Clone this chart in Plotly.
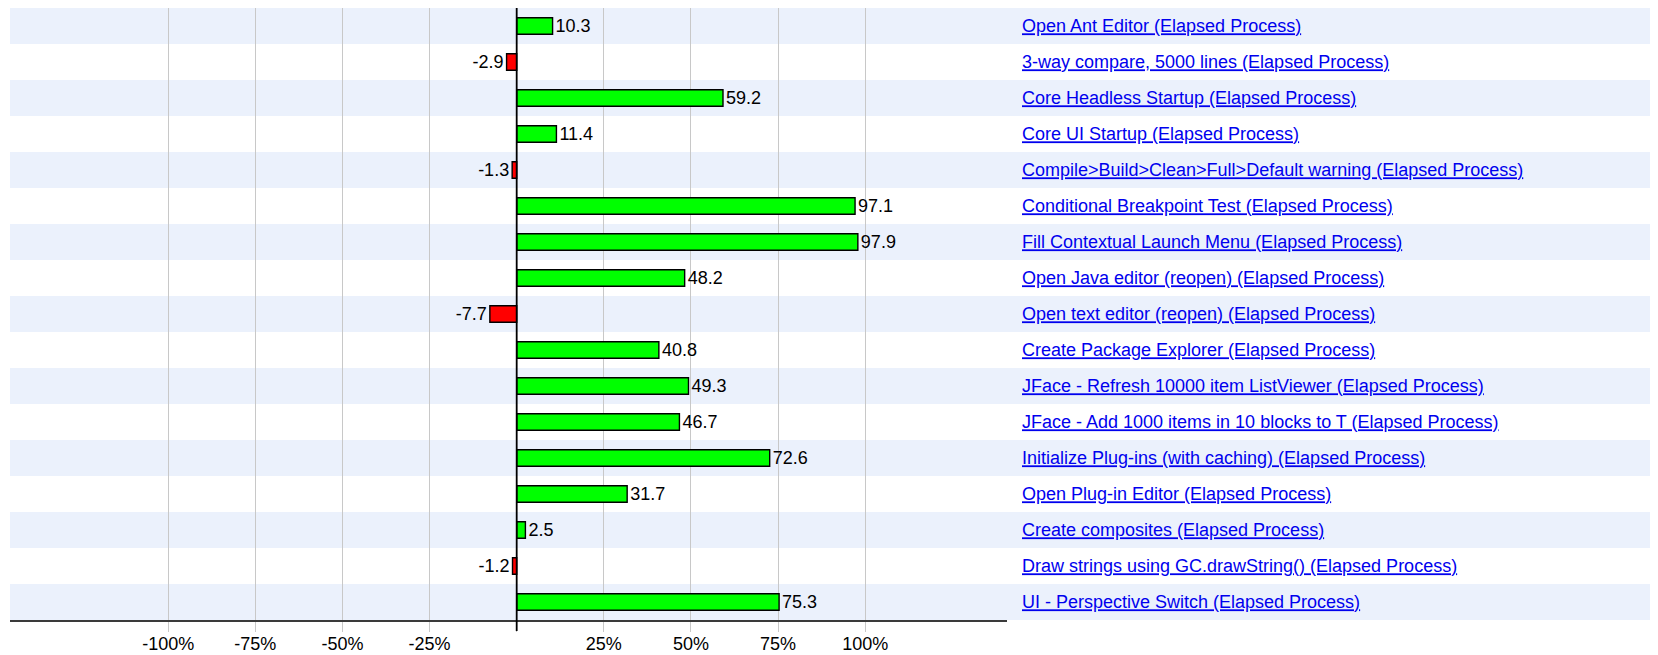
import plotly.graph_objects as go

categories = [
    "Open Ant Editor (Elapsed Process)",
    "3-way compare, 5000 lines (Elapsed Process)",
    "Core Headless Startup (Elapsed Process)",
    "Core UI Startup (Elapsed Process)",
    "Compile>Build>Clean>Full>Default warning (Elapsed Process)",
    "Conditional Breakpoint Test (Elapsed Process)",
    "Fill Contextual Launch Menu (Elapsed Process)",
    "Open Java editor (reopen) (Elapsed Process)",
    "Open text editor (reopen) (Elapsed Process)",
    "Create Package Explorer (Elapsed Process)",
    "JFace - Refresh 10000 item ListViewer (Elapsed Process)",
    "JFace - Add 1000 items in 10 blocks to T (Elapsed Process)",
    "Initialize Plug-ins (with caching) (Elapsed Process)",
    "Open Plug-in Editor (Elapsed Process)",
    "Create composites (Elapsed Process)",
    "Draw strings using GC.drawString() (Elapsed Process)",
    "UI - Perspective Switch (Elapsed Process)",
]
values = [10.3, -2.9, 59.2, 11.4, -1.3, 97.1, 97.9, 48.2, -7.7, 40.8,
          49.3, 46.7, 72.6, 31.7, 2.5, -1.2, 75.3]
tick_vals = [-100, -75, -50, -25, 0, 25, 50, 75, 100]
tick_text = ["-100%", "-75%", "-50%", "-25%", "", "25%", "50%", "75%", "100%"]

FONT = "Liberation Sans, Arial, sans-serif"
BAND = "#EBF1FC"

colors = ["#00FF00" if v >= 0 else "#FF0000" for v in values]

fig = go.Figure()
fig.add_trace(go.Bar(
    x=values,
    y=categories,
    orientation="h",
    width=0.46,
    marker=dict(color=colors, line=dict(color="#000000", width=1.4)),
    text=[f"{v:.1f}" for v in values],
    textposition="outside",
    constraintext="none",
    textfont=dict(family=FONT, size=18, color="#000000"),
    cliponaxis=False,
    hoverinfo="skip",
))

shapes = []
for i in range(len(categories)):
    if i % 2 == 0:
        shapes.append(dict(
            type="rect", xref="paper", yref="y",
            x0=0, x1=2, y0=i - 0.5, y1=i + 0.5,
            fillcolor=BAND, line=dict(width=0), layer="below",
        ))
# zero line extended with its tick below the axis
shapes.append(dict(
    type="line", xref="x", yref="paper",
    x0=0, x1=0, y0=-0.018, y1=1,
    line=dict(color="#000000", width=1.8), layer="above",
))

fig.update_layout(
    width=1650, height=647,
    margin=dict(l=2, r=651, t=0, b=35, autoexpand=False),
    paper_bgcolor="#FFFFFF",
    plot_bgcolor="rgba(0,0,0,0)",
    showlegend=False,
    shapes=shapes,
    xaxis=dict(
        range=[-145.4, 140.7],
        tickvals=tick_vals,
        ticktext=tick_text,
        showgrid=True,
        gridcolor="#C8C8C8",
        gridwidth=1,
        zeroline=False,
        ticks="outside",
        ticklen=10,
        tickcolor="#C8C8C8",
        tickwidth=1,
        ticklabelstandoff=-4,
        showline=True,
        linecolor="#3A3A3A",
        linewidth=2,
        tickfont=dict(family=FONT, size=18, color="#000000"),
        fixedrange=True,
    ),
    yaxis=dict(
        categoryorder="array",
        categoryarray=categories,
        autorange="reversed",
        side="right",
        showgrid=False,
        zeroline=False,
        showline=False,
        ticks="",
        ticklabelstandoff=14,
        tickfont=dict(family=FONT, size=18, color="#0000EE", lineposition="under"),
        fixedrange=True,
    ),
)

fig.write_html("out.html")
